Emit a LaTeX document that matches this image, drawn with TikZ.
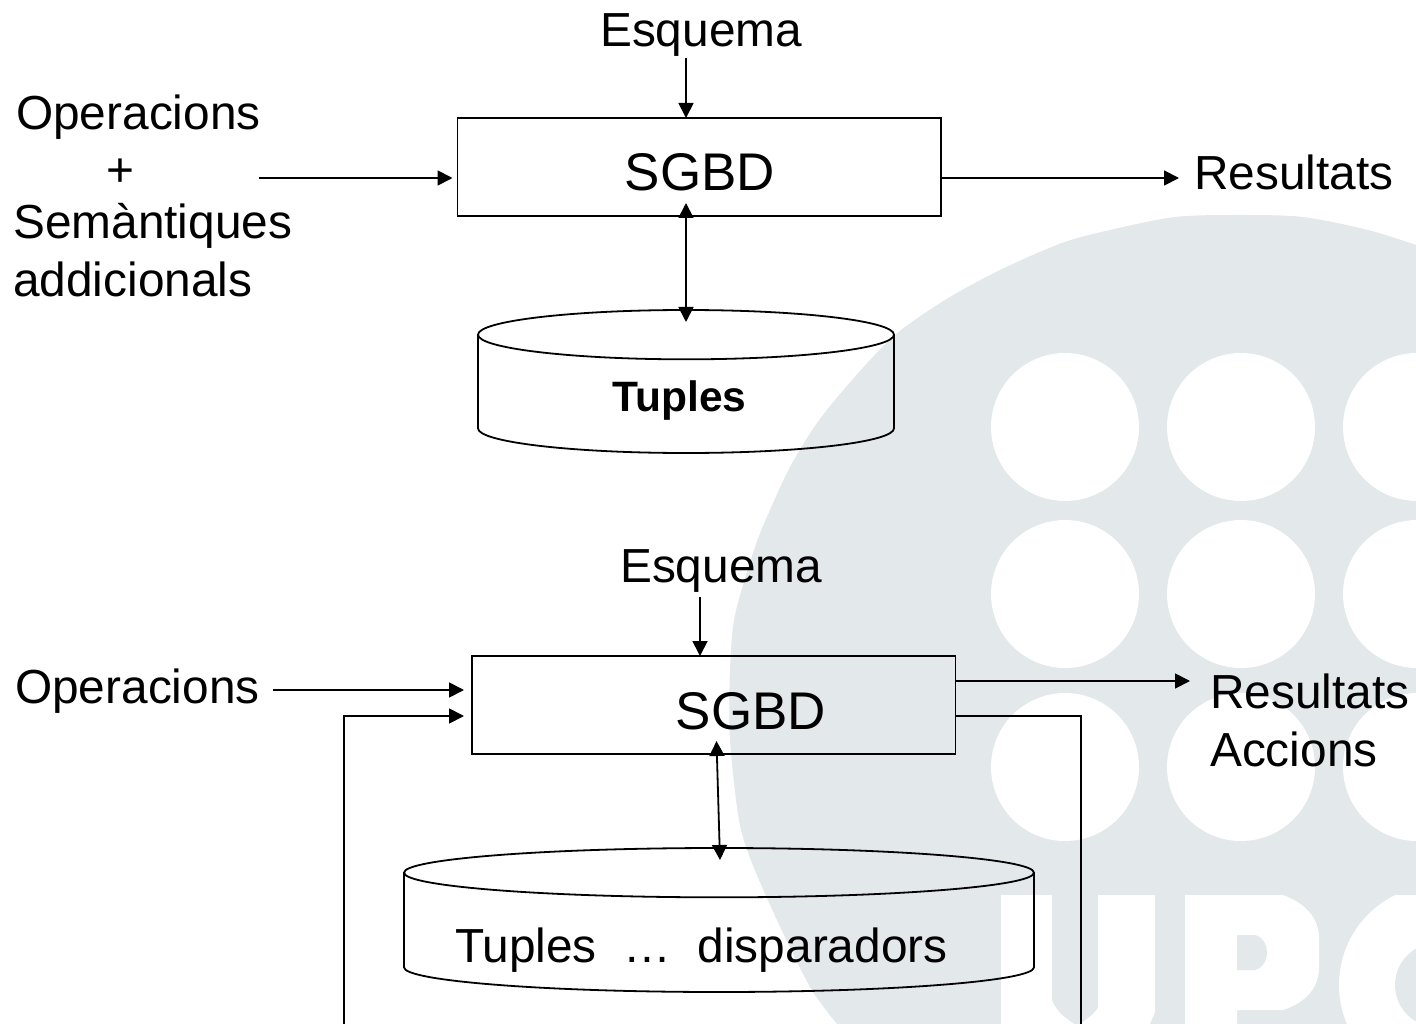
\documentclass[tikz,border=0pt]{standalone}
\usepackage{fontspec}
\setmainfont{Liberation Sans}
\usetikzlibrary{arrows.meta,shapes.geometric}
\definecolor{upcgray}{HTML}{E3E8EA}
\tikzset{
  lbl/.style={inner sep=0pt,anchor=base west,font=\fontsize{47.8}{50}\selectfont},
  lblbig/.style={inner sep=0pt,anchor=base,font=\fontsize{53}{55}\selectfont},
  box/.style={draw,line width=1.8pt,outer sep=0pt,minimum width=483.5pt,minimum height=98pt},
  can/.style={draw,line width=1.8pt,outer sep=0pt,shape=cylinder,shape border rotate=90,aspect=7.4,anchor=shape center},
  arr/.style={line width=1.8pt}
}
\begin{document}
\begin{tikzpicture}[x=1pt,y=-1pt,>={Triangle[length=15pt,width=15pt]}]
\useasboundingbox (0,0) rectangle (1416,1024);

% watermark
\fill[upcgray] plot[smooth,tension=.5] coordinates {(837,1024) (810,987) (777,920) (752,863) (739,820) (730,740) (730,670) (735,615) (755,547) (770,510) (790,467) (817,423) (852,380) (895,335) (945,300) (1000,270) (1062,243) (1110,230) (1175,217) (1239,215) (1303,217) (1368,230) (1416,245) (1450,258)} -- (1450,1040) -- (837,1040) -- cycle;
\foreach \x in {1065,1241,1417}
  \foreach \y in {427,594,767}
    \fill[white] (\x,\y) circle [radius=74];
\fill[white] (1001,895) -- (1052,895) -- (1052,1000) .. controls (1056,1012) and (1068,1020) .. (1077,1026)
  .. controls (1086,1020) and (1094,1014) .. (1098,1008) -- (1098,895) -- (1155,895) -- (1155,1012) -- (1149,1026) -- (1001,1026) -- cycle;
\fill[white] (1185,895) -- (1283,895) .. controls (1305,903) and (1319,918) .. (1319,938) -- (1319,968)
  .. controls (1319,988) and (1305,1003) .. (1283,1010) -- (1237,1010) -- (1237,1026) -- (1185,1026) -- cycle;
\fill[upcgray] (1237,935) -- (1255,935) .. controls (1263,937) and (1267,945) .. (1267,952) .. controls (1267,960) and (1263,968) .. (1255,970) -- (1237,970) -- cycle;
\begin{scope}
\clip (1330,895) rectangle (1416,1026);
\fill[white] (1439,985) circle [radius=100];
\fill[upcgray] (1437,985) circle [radius=42];
\end{scope}

% first diagram
\node[box] (sgbdA) at (699.25,167) {};
\node[lblbig] (sgbdAtxt) at (700,191) {SGBD};
\node[can,minimum width=416pt,minimum height=143pt] (canA) at (686,381.5) {};
\node[inner sep=0pt,anchor=base,font=\fontsize{42.5}{44}\selectfont\bfseries] (tuplesA) at (679.5,411) {Tuples};
\node[lbl] (esquemaA) at (600,47) {Esquema};
\node[lbl] (opA) at (16,130) {Operacions};
\node[lbl] (plusA) at (106,187) {+};
\node[lbl] (semA) at (13,239) {Semàntiques};
\node[lbl] (addA) at (13,297) {addicionals};
\node[lbl] (resA) at (1194,190) {Resultats};

\coordinate (esqendA) at (686,58);
\coordinate (opendA) at (259,178);
\coordinate (resendA) at (1179,178);
\coordinate (dbtopA) at (686,203);
\coordinate (dbbotA) at (686,322);
\draw[arr,->] (esqendA) -- (esqendA |- sgbdA.north);
\draw[arr,->,shorten >=5pt] (opendA) -- (opendA -| sgbdA.west);
\draw[arr,->] (resendA -| sgbdA.east) -- (resendA);
\draw[arr,<->] (dbtopA) -- (dbbotA);

% second diagram
\node[box] (sgbdB) at (713.75,705) {};
\node[lblbig] (sgbdBtxt) at (751,729) {SGBD};
\node[can,minimum width=630pt,minimum height=144pt] (canB) at (719,920) {};
\node[lbl] (tuplesB) at (455,962) {Tuples\ \ …\ \ disparadors};
\node[lbl] (esquemaB) at (620,582) {Esquema};
\node[lbl] (opB) at (15,703) {Operacions};
\node[lbl] (resB) at (1210,708) {Resultats};
\node[lbl] (accB) at (1210,766) {Accions};

\coordinate (esqendB) at (700,597);
\coordinate (opendB) at (273,690);
\coordinate (resendB) at (1190,681);
\coordinate (dbtopB) at (716.5,741);
\coordinate (dbbotB) at (720,860);
\coordinate (fbleft) at (344,1024);
\coordinate (fbright) at (1081,1024);
\coordinate (fbin) at (464,716);
\coordinate (fbout) at (956,716);
\draw[arr,->] (esqendB) -- (esqendB |- sgbdB.north);
\draw[arr,->,shorten >=8pt] (opendB) -- (opendB -| sgbdB.west);
\draw[arr,->] (resendB -| sgbdB.east) -- (resendB);
\draw[arr,<->] (dbtopB) -- (dbbotB);
\draw[arr,->] (fbleft) |- (fbin);
\draw[arr] (fbout -| sgbdB.east) -| (fbright);
\end{tikzpicture}
\end{document}
